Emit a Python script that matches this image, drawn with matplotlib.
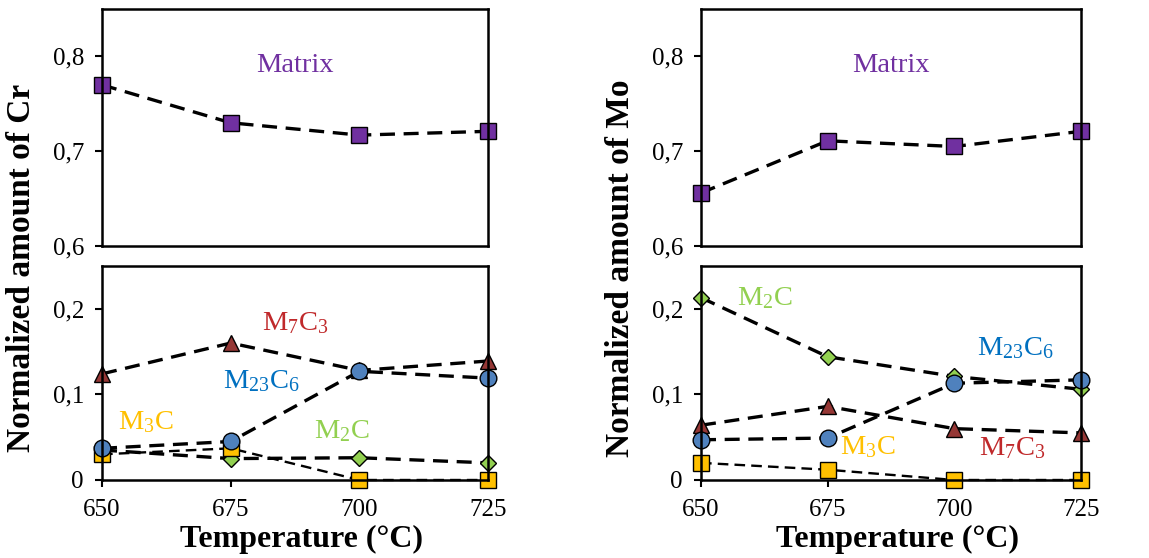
import matplotlib
matplotlib.use("Agg")
import matplotlib.pyplot as plt
from matplotlib.ticker import FuncFormatter

plt.rcParams['font.family'] = ['Liberation Serif', 'DejaVu Serif']
plt.rcParams['mathtext.fontset'] = 'custom'
plt.rcParams['mathtext.rm'] = 'Liberation Serif'
plt.rcParams['mathtext.it'] = 'Liberation Serif:italic'
plt.rcParams['mathtext.bf'] = 'Liberation Serif:bold'

# Temperatures (°C)
temps = [650, 675, 700, 725]

# Normalized amount of Cr
cr_matrix = [0.770, 0.730, 0.717, 0.721]
cr_m7c3 = [0.124, 0.160, 0.128, 0.139]
cr_m23c6 = [0.037, 0.045, 0.127, 0.119]
cr_m3c = [0.030, 0.037, 0.0, 0.0]
cr_m2c = [0.035, 0.025, 0.026, 0.020]

# Normalized amount of Mo
mo_matrix = [0.656, 0.711, 0.705, 0.721]
mo_m7c3 = [0.064, 0.086, 0.060, 0.055]
mo_m23c6 = [0.047, 0.049, 0.113, 0.117]
mo_m3c = [0.020, 0.012, 0.0, 0.0]
mo_m2c = [0.213, 0.144, 0.121, 0.106]

purple = '#7030A0'
red_m = '#953735'
red_t = '#C0292B'
blue_m = '#4F81BD'
blue_t = '#0070C0'
gold = '#FFC000'
green = '#92D050'

comma = FuncFormatter(lambda v, p: ('%g' % round(v, 2)).replace('.', ','))

fig = plt.figure(figsize=(11.49, 5.58), dpi=100)


def style_axes(ax):
    for s in ax.spines.values():
        s.set_linewidth(1.8)
    ax.tick_params(axis='both', direction='out', length=5, width=1.5,
                   labelsize=18)
    ax.tick_params(axis='y', pad=8)
    ax.tick_params(axis='x', pad=9)
    ax.yaxis.set_major_formatter(comma)


def line(ax, y, marker, color, ms, lw=2.4):
    ax.plot(temps, y, ls=(0, (4.5, 2.6)), color='black', lw=lw, marker=marker,
            ms=ms, mfc=color, mec='black', mew=1.0, clip_on=False)


def panel(left, width, matrix, m7c3, m23c6, m3c, m2c, element, labels):
    top = fig.add_axes([left, 0.5591, width, 0.4247])
    bot = fig.add_axes([left, 0.1398, width, 0.3835])
    line(top, matrix, 's', purple, 11)
    top.set_xlim(650, 725)
    top.set_ylim(0.6, 0.85)
    top.set_yticks([0.6, 0.7, 0.8])
    top.set_xticks([])
    top.text(687.5, 0.79, 'Matrix', color=purple, fontsize=20.5,
             ha='center', va='center')
    style_axes(top)

    line(bot, m2c, 'D', green, 8)
    line(bot, m7c3, '^', red_m, 11)
    line(bot, m3c, 's', gold, 11, lw=1.7)
    line(bot, m23c6, 'o', blue_m, 12)
    bot.set_xlim(650, 725)
    bot.set_ylim(0, 0.25)
    bot.set_yticks([0, 0.1, 0.2])
    bot.set_xticks(temps)
    style_axes(bot)
    for txt, x, y, c in labels:
        bot.text(x, y, txt, color=c, fontsize=20.5, ha='center', va='center')

    cx = left + width / 2
    fig.text(cx + 0.006, 0.033, 'Temperature (°C)', fontsize=23,
             fontweight='bold', ha='center', va='center')
    fig.text(left - 0.07, 0.52, 'Normalized amount of ' + element,
             fontsize=24, fontweight='bold', rotation=90,
             ha='center', va='center')


panel(0.0888, 0.336, cr_matrix, cr_m7c3, cr_m23c6, cr_m3c, cr_m2c, 'Cr', [
    (r'M$_\mathregular{7}$C$_\mathregular{3}$', 687.5, 0.183, red_t),
    (r'M$_\mathregular{23}$C$_\mathregular{6}$', 681, 0.116, blue_t),
    (r'M$_\mathregular{3}$C', 658.5, 0.068, gold),
    (r'M$_\mathregular{2}$C', 696.5, 0.057, green),
])

panel(0.6101, 0.3307, mo_matrix, mo_m7c3, mo_m23c6, mo_m3c, mo_m2c, 'Mo', [
    (r'M$_\mathregular{2}$C', 662.5, 0.213, green),
    (r'M$_\mathregular{23}$C$_\mathregular{6}$', 712, 0.154, blue_t),
    (r'M$_\mathregular{3}$C', 683, 0.038, gold),
    (r'M$_\mathregular{7}$C$_\mathregular{3}$', 711.5, 0.037, red_t),
])

fig.savefig('out.png', dpi=100)
